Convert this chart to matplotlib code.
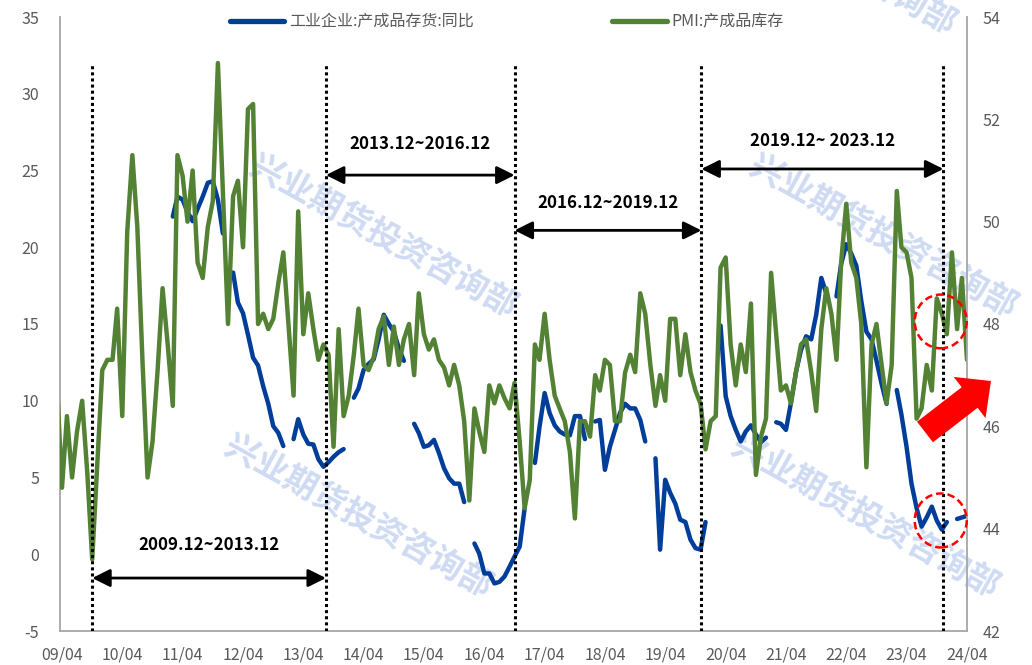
import numpy as np
import pandas as pd
import matplotlib
matplotlib.use("Agg")
import matplotlib.pyplot as plt
import matplotlib.dates as mdates
from matplotlib.patches import Ellipse, FancyArrow
from matplotlib.transforms import IdentityTransform

nan = np.nan

# monthly points, 2009-03 .. 2024-04
months = pd.date_range("2009-03-01", "2024-04-01", freq="MS")

# PMI:产成品库存 (right axis)
pmi_inventory = [
    46.9, 44.8, 46.2, 45.0, 45.9, 46.5, 45.1, 43.4, 45.3, 47.1,                  # 2009 Mar-Dec
    47.3, 47.3, 48.3, 46.2, 49.8, 51.3, 49.9, 47.3, 45.0, 45.7, 47.1, 48.7,      # 2010
    47.6, 46.4, 51.3, 50.9, 50.0, 51.0, 49.2, 48.9, 49.9, 50.4, 53.1, 50.6,      # 2011
    48.0, 50.5, 50.8, 49.5, 52.2, 52.3, 48.0, 48.2, 47.9, 48.1, 48.8, 49.4,      # 2012
    48.0, 46.6, 50.2, 47.8, 48.6, 47.9, 47.3, 47.6, 47.4, 45.6, 47.9, 46.2,      # 2013
    46.6, 47.4, 48.3, 47.2, 47.1, 47.35, 47.9, 48.15, 47.2, 47.95, 47.2, 47.7,   # 2014
    48.0, 47.0, 48.6, 47.8, 47.5, 47.7, 47.3, 47.15, 46.8, 47.2, 46.8, 46.1,     # 2015
    44.55, 46.35, 45.9, 45.5, 46.8, 46.45, 46.8, 46.55, 46.35, 46.85, 45.7, 44.4,  # 2016
    44.95, 47.6, 47.3, 48.2, 47.3, 46.6, 46.35, 46.1, 45.5, 44.2, 46.1, 46.1,    # 2017
    45.8, 47.0, 46.7, 47.3, 47.2, 46.1, 46.1, 47.05, 47.4, 47.06, 48.6, 48.2,    # 2018
    47.2, 46.4, 47.0, 46.5, 48.1, 48.1, 47.0, 47.8, 47.06, 46.7, 46.44, 45.55,   # 2019
    46.1, 46.2, 49.1, 49.3, 47.6, 46.8, 47.6, 47.06, 48.4, 45.05, 45.8, 46.15,   # 2020
    49.0, 47.8, 46.7, 46.8, 46.45, 47.06, 47.6, 47.7, 47.06, 46.3, 47.9, 48.7,   # 2021
    48.2, 47.3, 49.2, 50.35, 49.2, 48.9, 48.0, 45.2, 47.6, 48.0, 47.2, 46.45,    # 2022
    47.2, 50.6, 49.5, 49.4, 48.9, 46.15, 46.35, 47.2, 46.7, 48.5, 48.2, 47.8,    # 2023
    49.4, 47.9, 48.9, 47.3,                                                      # 2024 Jan-Apr
]

# 工业企业:产成品存货:同比 (left axis), no January prints
ind_inventory_yoy = [
    nan, nan, nan, nan, nan, nan, nan, nan, nan, nan,
    nan, nan, nan, nan, nan, nan, nan, nan, nan, nan, nan, nan,
    nan, 22.0, 23.3, 23.1, 22.3, 21.7, 22.5, 23.3, 24.2, 24.3, 23.1, 20.9,
    nan, 18.35, 16.4, 15.7, 14.3, 12.8, 12.3, 10.95, 9.8, 8.35, 7.9, 7.05,
    nan, 7.5, 8.8, 7.8, 7.2, 7.15, 6.2, 5.7, 6.0, 6.35, 6.65, 6.85,
    nan, 10.2, 10.8, 12.0, 12.4, 12.7, 14.0, 15.6, 15.0, 14.5, 13.4, 12.6,
    nan, 8.5, 7.9, 7.0, 7.1, 7.45, 6.6, 5.6, 4.95, 4.6, 4.6, 3.4,
    nan, 0.7, 0.05, -1.25, -1.25, -1.9, -1.8, -1.45, -0.8, -0.15, 0.5, 3.0,
    nan, 5.95, 8.3, 10.5, 9.2, 8.4, 8.0, 7.8, 7.75, 9.0, 9.0, 7.5,
    nan, 8.65, 8.75, 5.5, 7.0, 8.1, 9.2, 9.8, 9.5, 9.5, 8.75, 7.35,
    nan, 6.25, 0.3, 4.85, 4.0, 3.3, 2.25, 2.1, 0.95, 0.4, 0.3, 2.1,
    nan, nan, 14.9, 10.3, 9.0, 8.1, 7.35, 8.0, 8.4, 7.8, 7.3, 7.6,
    nan, 8.6, 8.5, 8.1, 9.85, 11.9, 13.3, 14.2, 14.0, 15.6, 18.0, 17.0,
    nan, 16.8, 18.9, 20.2, 19.6, 18.8, 16.5, 14.5, 14.0, 12.6, 11.1, 9.8,
    nan, 10.7, 9.1, 7.0, 4.6, 3.0, 1.8, 2.4, 3.1, 2.2, 1.6, 2.1,
    nan, 2.3, 2.4, 2.5,
]

series_names = ["工业企业:产成品存货:同比", "PMI:产成品库存"]
periods = ["2009.12~2013.12", "2013.12~2016.12", "2016.12~2019.12", "2019.12~ 2023.12"]
period_edges = pd.to_datetime(["2009-10-01", "2013-08-16", "2016-10-01",
                               "2019-11-06", "2023-11-10"])
arrow_y = [-1.55, 24.7, 21.1, 25.1]   # left-axis units
label_y = [0.6, 26.7, 22.9, 26.9]

blue = "#003E9A"
green = "#548235"
grey = "#595959"
spine_grey = "#A6A6A6"

plt.rcParams["font.family"] = ["Noto Sans CJK SC", "DejaVu Sans"]
plt.rcParams["axes.unicode_minus"] = False

fig = plt.figure(figsize=(10.32, 6.65), dpi=100, facecolor="white")

# watermark behind everything
for px, py in [(383, 238), (883, 238), (358, 518), (865, 518), (822, -45)]:
    fig.text(px / 1032, 1 - py / 665, "兴业期货投资咨询部", rotation=-29,
             rotation_mode="anchor", ha="center", va="center", fontsize=24,
             fontweight="bold", color="#CFDBF3", zorder=-5)

ax = fig.add_axes([60 / 1032, 34 / 665, 907 / 1032, 614 / 665])
ax2 = ax.twinx()
ax.set_facecolor("none")
ax2.set_facecolor("none")

l1, = ax.plot(months, ind_inventory_yoy, color=blue, lw=3.2,
              solid_capstyle="round", solid_joinstyle="round")
l2, = ax2.plot(months, pmi_inventory, color=green, lw=3.2,
               solid_capstyle="round", solid_joinstyle="round")

# dotted period separators
for d in period_edges:
    ax2.axvline(d, ymin=0, ymax=(631 - 65) / 614, color="black", lw=2.2,
                linestyle=(0, (1, 1)), zorder=5)

# double arrows + period labels
for i, txt in enumerate(periods):
    a = mdates.date2num(period_edges[i])
    b = mdates.date2num(period_edges[i + 1])
    ax2.annotate("", xy=(b, arrow_y[i]), xytext=(a, arrow_y[i]),
                 xycoords=ax.transData, textcoords=ax.transData,
                 arrowprops=dict(arrowstyle="<|-|>,head_length=0.6,head_width=0.3",
                                 mutation_scale=18, lw=2, color="black",
                                 shrinkA=0, shrinkB=0), zorder=6)
    ax2.text((a + b) / 2, label_y[i], txt, transform=ax.transData,
             ha="center", va="center", fontsize=12.2, fontweight="bold",
             color="black", zorder=6)

# red dashed circles
cx = mdates.date2num(pd.Timestamp("2023-10-25"))
ax2.add_patch(Ellipse((cx, 48.05), 315, 1.05, fill=False, ec="red", lw=1.8,
                      ls=(0, (3, 1.6)), clip_on=False, zorder=7))
ax2.add_patch(Ellipse((cx, 2.2), 315, 3.52, fill=False, ec="red", lw=1.8,
                      ls=(0, (3, 1.6)), clip_on=False, zorder=7,
                      transform=ax.transData))

# red block arrow
fig.add_artist(FancyArrow(925, 233, 66, 51, width=26, head_width=52,
                          head_length=27, length_includes_head=True,
                          color="#FF0000", lw=0, transform=IdentityTransform()))

ax.set_ylim(-5, 35)
ax.set_yticks(range(-5, 36, 5))
ax2.set_ylim(42, 54)
ax2.set_yticks(range(42, 55, 2))
ax.set_xlim(pd.Timestamp("2009-03-20"), pd.Timestamp("2024-04-01"))
ax.xaxis.set_major_locator(mdates.MonthLocator(bymonth=4, bymonthday=1))
ax.xaxis.set_major_formatter(mdates.DateFormatter("%y/%m"))

for a_ in (ax, ax2):
    a_.spines["top"].set_visible(False)
ax.spines["right"].set_visible(False)
ax2.spines["left"].set_visible(False)
ax2.spines["bottom"].set_visible(False)
for s in ("left", "bottom"):
    ax.spines[s].set_color(spine_grey)
    ax.spines[s].set_linewidth(1.3)
ax2.spines["right"].set_color(spine_grey)
ax2.spines["right"].set_linewidth(1.3)

ax.tick_params(axis="both", length=0, labelsize=11.5, labelcolor=grey)
ax.tick_params(axis="y", pad=15)
ax.tick_params(axis="x", pad=11)
ax2.tick_params(axis="y", length=0, labelsize=11.5, labelcolor=grey, pad=11)

leg = fig.legend([l1, l2], series_names, loc="center", bbox_to_anchor=(0.491, 0.967),
                 ncol=2, frameon=False, fontsize=11.5, handlelength=3.4,
                 handletextpad=0.3, columnspacing=8.7, labelcolor=grey)
for h in leg.get_lines():
    h.set_linewidth(3.8)

fig.savefig("out.png", dpi=100)
